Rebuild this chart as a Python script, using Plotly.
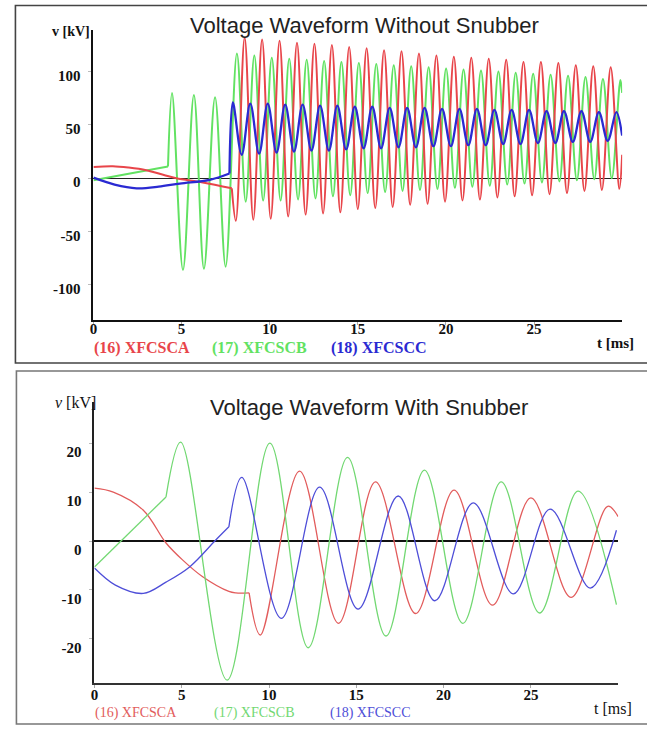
import plotly.graph_objects as go

W, H = 647, 729

# ---------------- Voltage waveform without snubber (t in ms, v in kV) ----------------
# phase A (16) XFCSCA : pre-switching segment, then oscillation extrema
A_TOP_PRE_T = [0.0, 1.1, 2.0, 3.0, 4.0, 4.7, 6.2, 7.85]
A_TOP_PRE_V = [10.6, 11.3, 10.0, 7.5, 3.0, 0.0, -4.0, -9.5]
A_TOP_T = [7.85, 8.08, 8.58, 9.07, 9.57, 10.06, 10.56, 11.05, 11.55, 12.04, 12.54,
           13.03, 13.53, 14.01, 14.51, 15.00, 15.50, 15.99, 16.49, 16.98, 17.48,
           17.97, 18.47, 18.96, 19.46, 19.95, 20.45, 20.94, 21.44, 21.93, 22.43,
           22.92, 23.42, 23.90, 24.40, 24.89, 25.39, 25.88, 26.38, 26.87, 27.37,
           27.86, 28.36, 28.85, 29.35, 29.84, 30.0]
A_TOP_V = [-9.5, -40, 132, -39, 130, -38, 129, -36, 127, -34, 126,
           -33, 125, -32, 123, -29, 122, -28, 120, -27, 119,
           -25, 117, -24, 115, -22, 114, -21, 113, -20, 112,
           -18, 111, -17, 109, -16, 109, -15, 108, -14, 106,
           -12, 105, -11, 104, -10, 22]

# phase B (17) XFCSCB
B_TOP_PRE_T = [0.0, 4.23]
B_TOP_PRE_V = [-2.0, 11.0]
B_TOP_T = [4.23, 4.46, 5.08, 5.70, 6.27, 6.90, 7.50, 8.14, 8.64, 9.13, 9.63,
           10.12, 10.62, 11.11, 11.61, 12.10, 12.60, 13.09, 13.59, 14.07, 14.57,
           15.06, 15.56, 16.05, 16.55, 17.04, 17.54, 18.03, 18.53, 19.02, 19.52,
           20.01, 20.51, 21.00, 21.50, 21.99, 22.49, 22.98, 23.48, 23.96, 24.46,
           24.95, 25.45, 25.94, 26.44, 26.93, 27.43, 27.92, 28.42, 28.91, 29.41,
           29.90, 30.0]
B_TOP_V = [11, 80, -86, 78, -85, 76, -83, 117, -22, 115, -21,
           113, -21, 112, -20, 111, -19, 110, -17, 109, -16,
           108, -14, 107, -13, 106, -12, 105, -11, 104, -10,
           103, -9, 102, -8, 101, -7, 100, -6, 99, -5,
           98, -4, 97, -3, 96, -2, 95, -1, 93, 0,
           92, 80]

# phase C (18) XFCSCC
C_TOP_PRE_T = [0.0, 1.2, 2.45, 3.7, 4.9, 6.6, 7.72]
C_TOP_PRE_V = [0.5, -6.0, -9.5, -8.0, -5.0, -1.5, 4.4]
C_TOP_T = [7.72, 7.91, 8.41, 8.90, 9.40, 9.89, 10.39, 10.88, 11.38, 11.87, 12.37,
           12.86, 13.36, 13.84, 14.34, 14.83, 15.33, 15.82, 16.32, 16.81, 17.31,
           17.80, 18.30, 18.79, 19.29, 19.78, 20.28, 20.77, 21.27, 21.76, 22.26,
           22.75, 23.25, 23.73, 24.23, 24.72, 25.22, 25.71, 26.21, 26.70, 27.20,
           27.69, 28.19, 28.68, 29.18, 29.67, 30.0]
C_TOP_V = [4.4, 71, 22, 70, 23, 70, 24, 69, 25, 69, 26,
           68, 26, 68, 27, 67, 28, 67, 28, 66, 29,
           66, 29, 66, 30, 65, 30, 65, 31, 65, 31,
           64, 32, 64, 32, 64, 33, 63, 33, 63, 34,
           63, 34, 62, 35, 62, 40]

# ---------------- Voltage waveform with snubber ----------------
A_BOT_PRE_T = [0.0, 1.08, 2.8, 4.1, 5.06, 6.2, 7.7, 8.1, 8.86]
A_BOT_PRE_V = [10.8, 10.0, 6.3, -0.4, -3.9, -7.3, -10.3, -10.6, -10.6]
A_BOT_T = [8.86, 9.5, 11.75, 13.98, 16.1, 18.4, 20.6, 22.8, 25.0, 27.3, 29.4, 30.0]
A_BOT_V = [-10.6, -19.2, 14.3, -16.8, 12.1, -14.8, 10.4, -13.1, 8.8, -11.5, 7.1, 5.0]

B_BOT_PRE_T = [0.0, 4.1]
B_BOT_PRE_V = [-5.3, 9.0]
B_BOT_T = [4.1, 4.94, 7.6, 10.05, 12.25, 14.5, 16.7, 18.9, 21.1, 23.3, 25.5, 27.7, 29.9]
B_BOT_V = [9.0, 20.2, -28.4, 20.0, -21.8, 17.1, -19.4, 14.5, -16.8, 12.1, -14.7, 10.2, -13.0]

C_BOT_PRE_T = [0.0, 1.2, 2.8, 4.1, 5.45, 6.95, 7.7]
C_BOT_PRE_V = [-5.5, -9.0, -10.7, -8.4, -5.3, 0.2, 2.9]
C_BOT_T = [7.7, 8.44, 10.7, 12.9, 15.1, 17.4, 19.5, 21.7, 24.0, 26.1, 28.4, 29.9]
C_BOT_V = [2.9, 13.0, -15.8, 11.0, -13.9, 9.2, -12.2, 7.8, -10.8, 6.5, -9.6, 2.2]

X_TICKS = [0, 5, 10, 15, 20, 25]
Y_TICKS_TOP = [-100, -50, 0, 50, 100]
Y_TICKS_BOT = [-20, -10, 0, 10, 20]
LEGEND_NAMES = ["(16) XFCSCA", "(17) XFCSCB", "(18) XFCSCC"]

TOP_COLORS = ["#e8454a", "#62e262", "#2a2ad2"]
BOT_COLORS = ["#e25c5c", "#72d872", "#4e4ed8"]


def px_x(p):
    return p / W


def px_y(p):
    return 1 - p / H


def tick_text(vals):
    # plain hyphen for negative numbers
    return [str(v) for v in vals]


fig = go.Figure()

top_sets = [
    (B_TOP_PRE_T, B_TOP_PRE_V, B_TOP_T, B_TOP_V, TOP_COLORS[1], 2.0),
    (A_TOP_PRE_T, A_TOP_PRE_V, A_TOP_T, A_TOP_V, TOP_COLORS[0], 2.0),
    (C_TOP_PRE_T, C_TOP_PRE_V, C_TOP_T, C_TOP_V, TOP_COLORS[2], 2.3),
]
for pt, pv, ot, ov, col, lw in top_sets:
    fig.add_trace(go.Scatter(x=pt, y=pv, mode="lines", line=dict(color=col, width=lw, shape="spline"),
                             xaxis="x", yaxis="y", showlegend=False, hoverinfo="skip"))
    fig.add_trace(go.Scatter(x=ot, y=ov, mode="lines", line=dict(color=col, width=lw, shape="spline"),
                             xaxis="x", yaxis="y", showlegend=False, hoverinfo="skip"))

bot_sets = [
    (A_BOT_PRE_T, A_BOT_PRE_V, A_BOT_T, A_BOT_V, BOT_COLORS[0]),
    (B_BOT_PRE_T, B_BOT_PRE_V, B_BOT_T, B_BOT_V, BOT_COLORS[1]),
    (C_BOT_PRE_T, C_BOT_PRE_V, C_BOT_T, C_BOT_V, BOT_COLORS[2]),
]
for pt, pv, ot, ov, col in bot_sets:
    fig.add_trace(go.Scatter(x=pt, y=pv, mode="lines", line=dict(color=col, width=1.3, shape="spline"),
                             xaxis="x2", yaxis="y2", showlegend=False, hoverinfo="skip"))
    fig.add_trace(go.Scatter(x=ot, y=ov, mode="lines", line=dict(color=col, width=1.3, shape="spline"),
                             xaxis="x2", yaxis="y2", showlegend=False, hoverinfo="skip"))

serif = "Liberation Serif, Times New Roman, serif"
sans = "Liberation Sans, Arial, sans-serif"

tick_font_top = dict(family=serif, size=15, color="#111", weight="bold")
tick_font_bot = dict(family=serif, size=15, color="#111", weight="bold")

fig.update_layout(
    width=W, height=H, autosize=False,
    margin=dict(l=0, r=0, t=0, b=0),
    paper_bgcolor="white", plot_bgcolor="white",
    xaxis=dict(domain=[px_x(90), px_x(622)], range=[0, 30], anchor="y",
               tickvals=X_TICKS, ticktext=tick_text(X_TICKS), showgrid=False, zeroline=False,
               showline=True, linecolor="#111", linewidth=2,
               ticks="outside", ticklen=3, tickcolor="#aaa",
               tickfont=tick_font_top, ticklabelstandoff=-9),
    yaxis=dict(domain=[px_y(320), px_y(30)], range=[-133, 139], anchor="x",
               tickvals=Y_TICKS_TOP, ticktext=tick_text(Y_TICKS_TOP), showgrid=False,
               zeroline=True, zerolinecolor="#222", zerolinewidth=1,
               showline=True, linecolor="#111", linewidth=2,
               ticks="outside", ticklen=3, tickcolor="#bbb",
               tickfont=tick_font_top, ticklabelstandoff=5, ticklabelshift=4),
    xaxis2=dict(domain=[px_x(91), px_x(618)], range=[0, 30], anchor="y2",
                tickvals=X_TICKS, ticktext=tick_text(X_TICKS), showgrid=False, zeroline=False,
                showline=True, linecolor="#333", linewidth=2,
                ticks="outside", ticklen=3, tickcolor="#aaa",
                tickfont=tick_font_bot, ticklabelstandoff=-6),
    yaxis2=dict(domain=[px_y(683), px_y(402)], range=[-29, 28.4], anchor="x2",
                tickvals=Y_TICKS_BOT, ticktext=tick_text(Y_TICKS_BOT), showgrid=False,
                zeroline=True, zerolinecolor="#111", zerolinewidth=1.6,
                showline=True, linecolor="#222", linewidth=2,
                ticks="outside", ticklen=3, tickcolor="#bbb",
                tickfont=tick_font_bot, ticklabelstandoff=5, ticklabelshift=9),
)

# panel frames
fig.add_shape(type="rect", xref="paper", yref="paper",
              x0=px_x(11.5), x1=1.02, y0=px_y(363), y1=px_y(5.5),
              line=dict(color="#444", width=1.6), fillcolor="rgba(0,0,0,0)", layer="below")
fig.add_shape(type="rect", xref="paper", yref="paper",
              x0=px_x(12.5), x1=1.02, y0=px_y(724), y1=px_y(371),
              line=dict(color="#777", width=1.6), fillcolor="rgba(0,0,0,0)", layer="below")

ann = []
# titles
ann.append(dict(text="Voltage Waveform Without Snubber", x=px_x(363), y=px_y(25),
                font=dict(family=sans, size=22, color="#222")))
ann.append(dict(text="Voltage Waveform With Snubber", x=px_x(367), y=px_y(407),
                font=dict(family=sans, size=22, color="#222")))
# axis titles
ann.append(dict(text="<b>v [kV]</b>", x=px_x(67), y=px_y(32),
                font=dict(family=serif, size=14, color="#111")))
ann.append(dict(text="<b>t [ms]</b>", x=px_x(615), y=px_y(343),
                font=dict(family=serif, size=15, color="#111")))
ann.append(dict(text="<i>v</i> [kV]", x=px_x(72), y=px_y(402),
                font=dict(family=serif, size=16, color="#111")))
ann.append(dict(text="t [ms]", x=px_x(613), y=px_y(708),
                font=dict(family=serif, size=16, color="#111")))
# legend labels
for name, col, left in zip(LEGEND_NAMES, TOP_COLORS, [89, 207, 327]):
    ann.append(dict(text="<b>" + name + "</b>", x=px_x(left), y=px_y(348), xanchor="left",
                    font=dict(family=serif, size=16, color=col)))
for name, col, left in zip(LEGEND_NAMES, BOT_COLORS, [90, 209, 326]):
    ann.append(dict(text=name, x=px_x(left), y=px_y(713), xanchor="left",
                    font=dict(family=serif, size=14, color=col)))

for a in ann:
    a.setdefault("xanchor", "center")
    a.update(xref="paper", yref="paper", yanchor="middle", showarrow=False)
fig.update_layout(annotations=ann)

fig.write_html("out.html")
